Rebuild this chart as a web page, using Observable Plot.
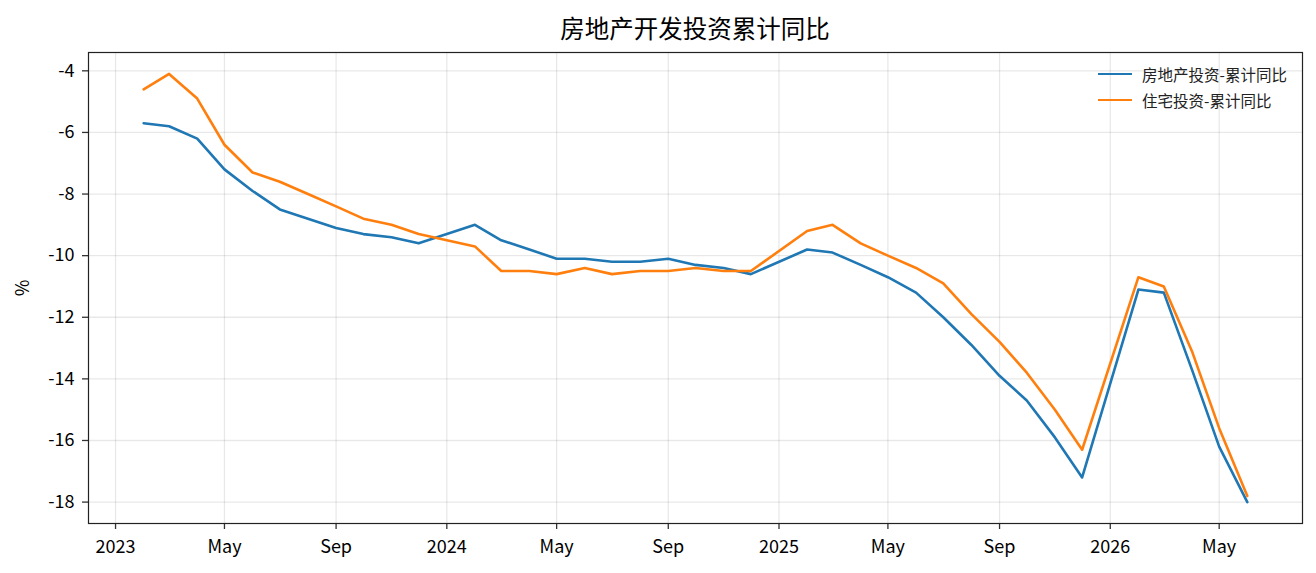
<!DOCTYPE html>
<html><head><meta charset="utf-8">
<script src="https://cdn.jsdelivr.net/npm/d3@7"></script>
<script src="https://cdn.jsdelivr.net/npm/@observablehq/plot@0.6"></script>
<style>
body{margin:0;background:#fff;font-family:"Noto Sans CJK SC","Noto Sans",sans-serif;}
#wrap{position:relative;width:1316px;height:573px;overflow:hidden;}
#title{position:absolute;left:88px;width:1214px;top:10px;text-align:center;font-size:24.5px;line-height:36px;color:#000;}
#chart{position:absolute;left:0;top:44px;}
#legend{position:absolute;left:1098px;top:61px;font-size:15.5px;color:#222;}
#legend .row{display:flex;align-items:center;height:26px;}
#legend .sw{width:34px;height:2.6px;margin-right:10px;}
</style>
</head><body>
<div id="wrap">
  <div id="title"></div>
  <div id="chart"></div>
  <div id="legend"></div>
</div>
<script>
const chartTitle = "房地产开发投资累计同比";
const seriesNames = ["房地产投资-累计同比", "住宅投资-累计同比"];
const seriesColors = ["#1f77b4", "#ff7f0e"];
const months = [
  "2023-02","2023-03","2023-04","2023-05","2023-06","2023-07","2023-08","2023-09","2023-10","2023-11","2023-12",
  "2024-02","2024-03","2024-04","2024-05","2024-06","2024-07","2024-08","2024-09","2024-10","2024-11","2024-12",
  "2025-02","2025-03","2025-04","2025-05","2025-06","2025-07","2025-08","2025-09","2025-10","2025-11","2025-12",
  "2026-02","2026-03","2026-04","2026-05","2026-06"
];
const totalInvest = [
  -5.7,-5.8,-6.2,-7.2,-7.9,-8.5,-8.8,-9.1,-9.3,-9.4,-9.6,
  -9.0,-9.5,-9.8,-10.1,-10.1,-10.2,-10.2,-10.1,-10.3,-10.4,-10.6,
  -9.8,-9.9,-10.3,-10.7,-11.2,-12.0,-12.9,-13.9,-14.7,-15.9,-17.2,
  -11.1,-11.2,-13.7,-16.2,-18.0
];
const residentialInvest = [
  -4.6,-4.1,-4.9,-6.4,-7.3,-7.6,-8.0,-8.4,-8.8,-9.0,-9.3,
  -9.7,-10.5,-10.5,-10.6,-10.4,-10.6,-10.5,-10.5,-10.4,-10.5,-10.5,
  -9.2,-9.0,-9.6,-10.0,-10.4,-10.9,-11.9,-12.8,-13.8,-15.0,-16.3,
  -10.7,-11.0,-13.1,-15.6,-17.8
];
const xTickDates = ["2023-01-01","2023-05-01","2023-09-01","2024-01-01","2024-05-01","2024-09-01","2025-01-01","2025-05-01","2025-09-01","2026-01-01","2026-05-01"];
const yTicks = [-18,-16,-14,-12,-10,-8,-6,-4];
const yLabel = "%";

const parseMonth = d3.utcParse("%Y-%m");
const parseDay = d3.utcParse("%Y-%m-%d");
const dates = months.map(parseMonth);
const rows = [];
[totalInvest, residentialInvest].forEach((vals, s) => {
  vals.forEach((v, i) => rows.push({date: dates[i], value: v, series: seriesNames[s]}));
});
const tickDates = xTickDates.map(parseDay);

// matplotlib-like 5% margins
const xMin = +dates[0], xMax = +dates[dates.length-1];
const xPad = (xMax - xMin) * 0.05;
const allVals = totalInvest.concat(residentialInvest);
const yMin = d3.min(allVals), yMax = d3.max(allVals);
const yPad = (yMax - yMin) * 0.05;

const fmtMonth = d3.utcFormat("%b");
const plot = Plot.plot({
  width: 1316, height: 529,
  marginLeft: 88, marginRight: 14, marginTop: 8, marginBottom: 50,
  style: {fontFamily: '"Noto Sans CJK SC","Noto Sans",sans-serif', fontSize: "18px", color: "#000", background: "#fff"},
  x: {type: "utc", domain: [new Date(xMin - xPad), new Date(xMax + xPad)]},
  y: {domain: [yMin - yPad, yMax + yPad]},
  color: {domain: seriesNames, range: seriesColors},
  marks: [
    Plot.gridX(tickDates, {stroke: "#000", strokeOpacity: 0.09, strokeWidth: 1.3}),
    Plot.gridY(yTicks, {stroke: "#000", strokeOpacity: 0.09, strokeWidth: 1.3}),
    Plot.axisX(tickDates, {tickSize: 6, tickPadding: 11, stroke: "#333", strokeWidth: 1.3, label: null,
      tickFormat: d => d.getUTCMonth() === 0 ? String(d.getUTCFullYear()) : fmtMonth(d)}),
    Plot.axisY(yTicks, {tickSize: 6, tickPadding: 8, stroke: "#333", strokeWidth: 1.3,
      tickFormat: d => String(d), label: yLabel, labelAnchor: "center", labelArrow: "none", labelOffset: 72}),
    Plot.lineY(rows, {x: "date", y: "value", z: "series", stroke: "series", strokeWidth: 2.6}),
    Plot.frame({stroke: "#222", strokeWidth: 1.2})
  ]
});
document.getElementById("chart").appendChild(plot);
document.getElementById("title").textContent = chartTitle;
const lg = document.getElementById("legend");
seriesNames.forEach((n, i) => {
  const r = document.createElement("div"); r.className = "row";
  const sw = document.createElement("div"); sw.className = "sw"; sw.style.background = seriesColors[i];
  const t = document.createElement("span"); t.textContent = n;
  r.appendChild(sw); r.appendChild(t); lg.appendChild(r);
});
</script>
</body></html>
